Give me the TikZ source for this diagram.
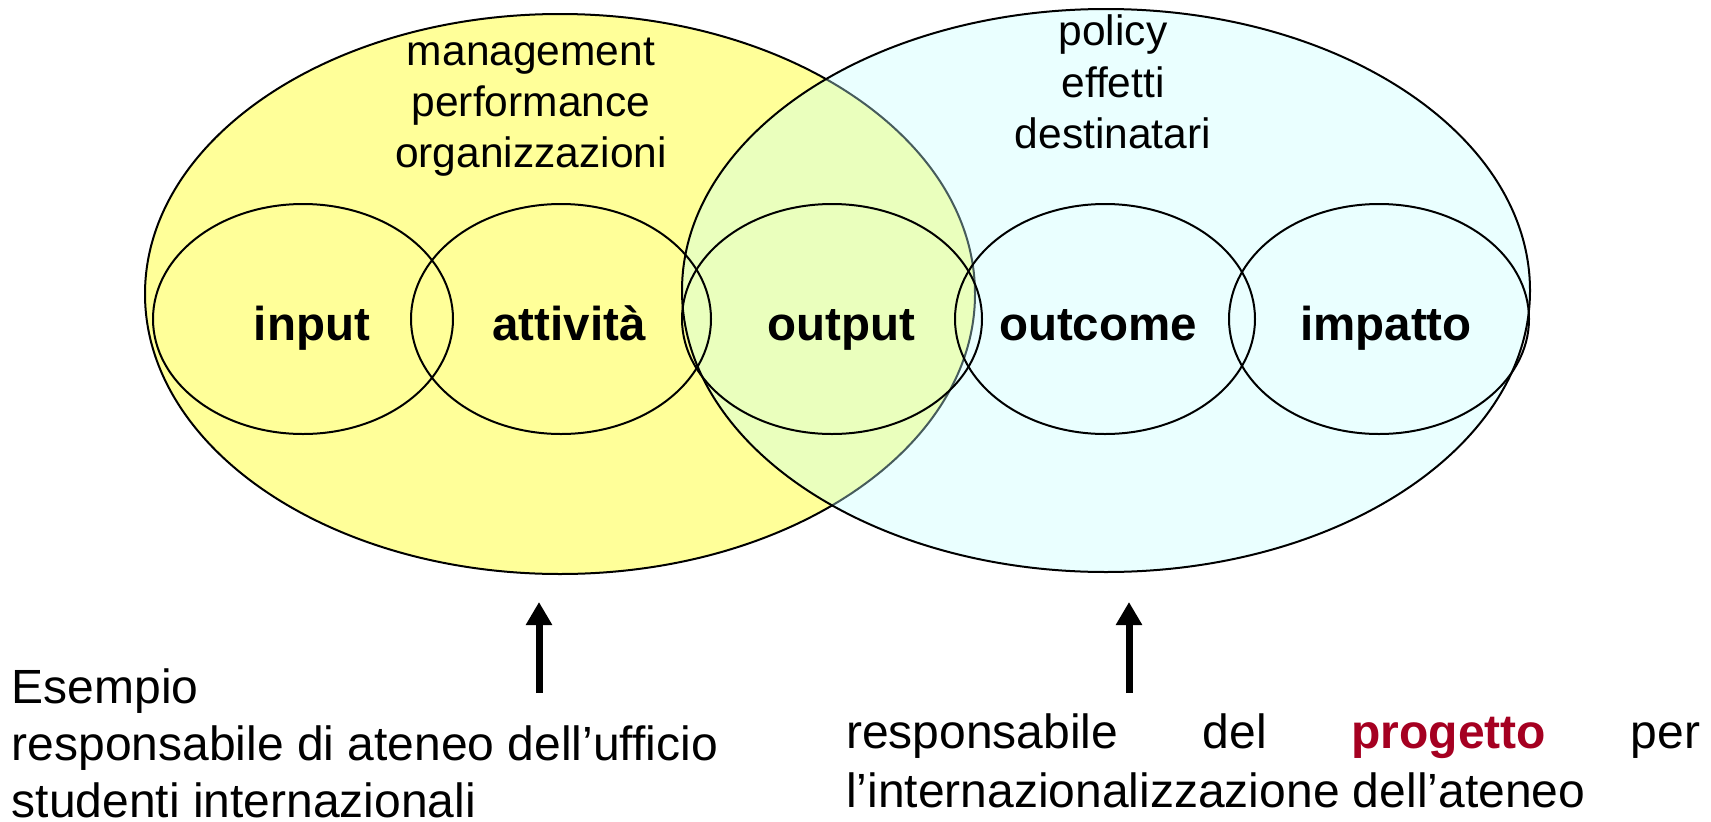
\documentclass[tikz,border=0pt]{standalone}
\usepackage{fontspec}
\setmainfont{Liberation Sans}
\usetikzlibrary{shapes.geometric,arrows.meta}
\definecolor{ylw}{RGB}{255,255,153}
\definecolor{cyn}{RGB}{197,255,255}
\definecolor{prog}{RGB}{165,0,33}
\begin{document}
\begin{tikzpicture}[x=1pt,y=-1pt,
  big/.style={ellipse, draw=black, line width=2pt, inner sep=0pt},
  small/.style={ellipse, draw=black, line width=2pt, inner sep=0pt, minimum width=300pt, minimum height=230pt},
  lbl/.style={font=\fontsize{47.5}{57}\selectfont\bfseries, anchor=base, inner sep=0pt},
  toptext/.style={font=\fontsize{42.5}{51}\selectfont, align=center, anchor=base, inner sep=0pt},
  note/.style={font=\fontsize{48}{57}\selectfont, align=left, anchor=base west, inner sep=0pt},
  uparrow/.style={line width=7pt, -{Triangle[width=25pt,length=23pt]}}
]
\fill[white] (0,0) rectangle (1711,822);
\useasboundingbox (0,0) rectangle (1711,822);
\node[big, fill=ylw, minimum width=830pt, minimum height=560pt] (mgmt) at (560,294) {};
\node[big, fill=cyn, fill opacity=0.36, minimum width=848pt, minimum height=563pt] (pol) at (1106,290.5) {};
\node[small] (e1) at (303,319) {};
\node[small] (e2) at (561,319) {};
\node[small] (e3) at (832,319) {};
\node[small] (e4) at (1105,319) {};
\node[small] (e5) at (1379,319) {};
\node[lbl] (l1) at (312,340) {input};
\node[lbl] (l2) at (569,340) {attività};
\node[lbl] (l3) at (841,340) {output};
\node[lbl] (l4) at (1098,340) {outcome};
\node[lbl] (l5) at (1386,340) {impatto};
\node[toptext] (t1) at (531,167.6) {management\\performance\\organizzazioni};
\node[toptext, font=\fontsize{42.5}{51.5}\selectfont] (t2) at (1113,148.5) {policy\\effetti\\destinatari};
\coordinate (a1s) at (539,693);
\coordinate (a1e) at (539,602);
\coordinate (a2s) at (1129,693);
\coordinate (a2e) at (1129,602);
\draw[uparrow] (a1s) -- (a1e);
\draw[uparrow] (a2s) -- (a2e);
\node[note] (ex) at (11.5,817) {Esempio\\responsabile di ateneo dell’ufficio\\studenti internazionali};
\node[note, font=\fontsize{48}{59}\selectfont] (pr) at (846,807) {\makebox[854pt][s]{responsabile del \textcolor{prog}{\bfseries progetto} per}\\l’internazionalizzazione dell’ateneo};
\end{tikzpicture}
\end{document}
